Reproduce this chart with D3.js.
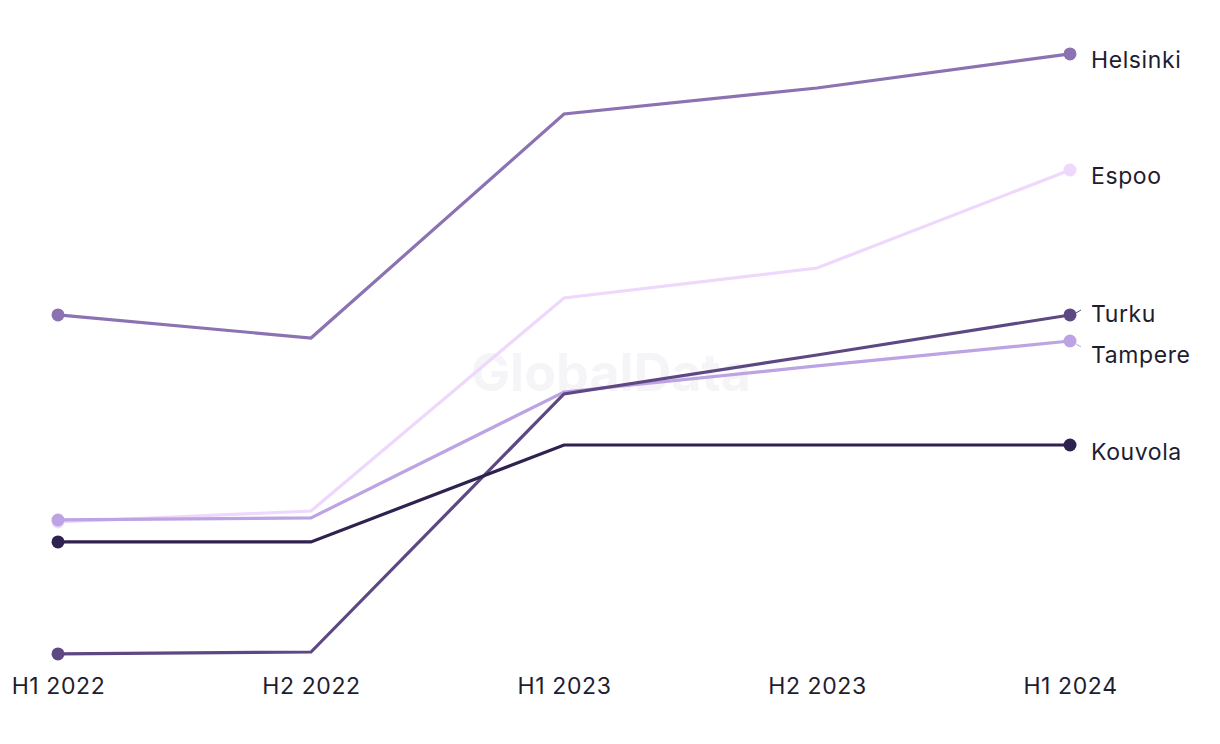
<!DOCTYPE html>
<html>
<head>
<meta charset="utf-8">
<script src="https://cdn.jsdelivr.net/npm/d3@7"></script>
<style>
  html, body { margin: 0; padding: 0; background: #ffffff; }
  svg { display: block; }
  text { font-family: Inter, "Noto Sans", sans-serif; }
</style>
</head>
<body>
<svg id="chart" width="1220" height="744"></svg>
<script>
const periods = ["H1 2022", "H2 2022", "H1 2023", "H2 2023", "H1 2024"];
const helsinki = [33.66, 31.50, 52.50, 54.94, 58.13];
const espoo    = [14.25, 15.28, 35.25, 38.06, 47.25];
const turku    = [1.88, 2.06, 26.25, 29.91, 33.66];
const tampere  = [14.44, 14.63, 26.44, 28.88, 31.22];
const kouvola  = [12.38, 12.38, 21.47, 21.47, 21.47];

const seriesNames  = ["Helsinki", "Espoo", "Tampere", "Turku", "Kouvola"];
const seriesValues = [helsinki, espoo, tampere, turku, kouvola];
const seriesColors = ["#8b72b2", "#eed8fc", "#bca3e3", "#5d4883", "#2f2150"];
const labelOffsets = [6, 6, 14, -1, 7];

const svg = d3.select("#chart");
const x = d3.scalePoint().domain(periods).range([58, 1070]);
const y = d3.scaleLinear().domain([0, 60]).range([674, 34]);

// watermark
svg.append("text")
  .attr("x", 611).attr("y", 391)
  .attr("text-anchor", "middle")
  .attr("font-size", 52).attr("font-weight", 700)
  .attr("fill", "#f5f4f7")
  .text("GlobalData");

const xAxis = d3.axisBottom(x).tickSize(0).tickPadding(0);
const gx = svg.append("g").attr("transform", "translate(0,673)").call(xAxis);
gx.select(".domain").remove();
gx.selectAll("text")
  .attr("font-size", 23)
  .attr("fill", "#1f1d30")
  .attr("dy", "0.9em")
  .style("letter-spacing", "0.6px")
  .style("font-family", "Inter, 'Noto Sans', sans-serif");

const line = d3.line().x((d, i) => x(periods[i])).y(d => y(d));

seriesNames.forEach((name, s) => {
  const vals = seriesValues[s];
  const g = svg.append("g");
  g.append("path")
    .attr("d", line(vals))
    .attr("fill", "none")
    .attr("stroke", seriesColors[s])
    .attr("stroke-width", 3.2)
    .attr("stroke-linejoin", "miter");
  g.append("circle").attr("cx", x(periods[0])).attr("cy", y(vals[0])).attr("r", 6.5).attr("fill", seriesColors[s]);
  const last = vals.length - 1;
  const lx = x(periods[last]), ly = y(vals[last]);
  g.append("circle").attr("cx", lx).attr("cy", ly).attr("r", 6.5).attr("fill", seriesColors[s]);
  const off = labelOffsets[s];
  if (name === "Turku" || name === "Tampere") {
    g.append("line")
      .attr("x1", lx + 6).attr("y1", ly + (off > 0 ? 3 : -2))
      .attr("x2", lx + 11).attr("y2", ly + (off > 0 ? 6 : -5))
      .attr("stroke", seriesColors[s]).attr("stroke-width", 1);
  }
  g.append("text")
    .attr("x", lx + 21).attr("y", ly + off)
    .attr("dy", "0.35em")
    .attr("font-size", 23)
    .style("letter-spacing", "0.6px")
    .attr("fill", "#1f1d30")
    .text(name);
});
</script>
</body>
</html>
